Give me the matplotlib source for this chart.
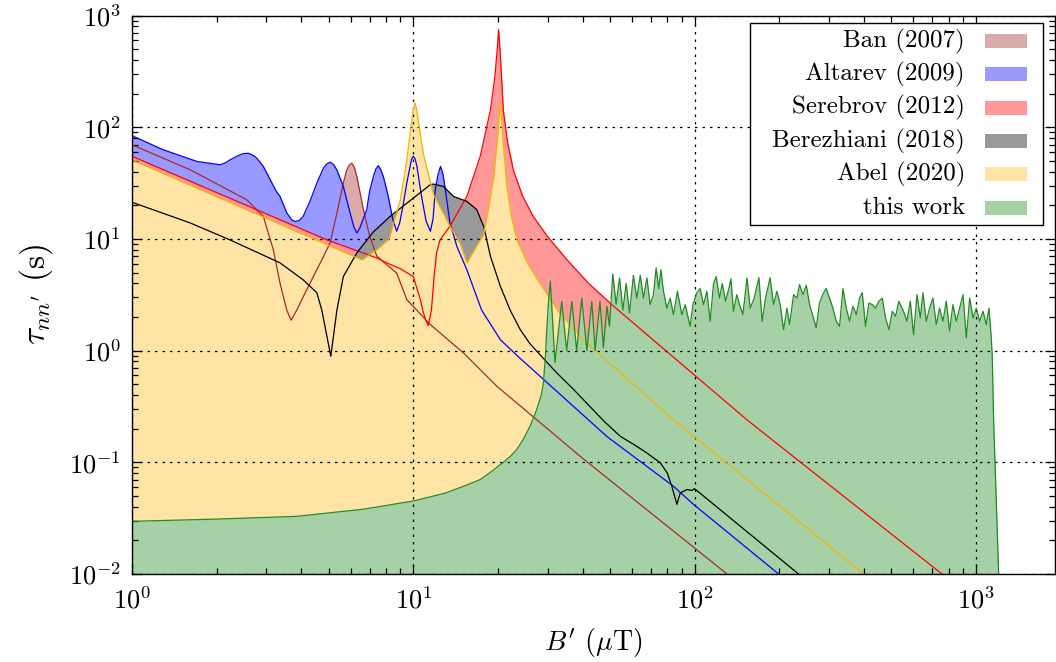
import matplotlib
matplotlib.use('Agg')
import matplotlib.pyplot as plt
from matplotlib.patches import Rectangle
from matplotlib.ticker import LogLocator, NullFormatter

plt.rcParams['font.family'] = ['cmr10', 'DejaVu Serif']
plt.rcParams['mathtext.fontset'] = 'cm'
plt.rcParams['axes.formatter.use_mathtext'] = True
plt.rcParams['axes.unicode_minus'] = False
plt.rcParams['font.size'] = 18

# curves (B' in uT, tau in s)
ban_B = [1, 1.61, 2.56, 2.93, 3.18, 3.36, 3.55, 3.68, 3.85, 4.2, 4.54, 4.8, 5.06, 5.35, 5.64,
         5.80, 5.93, 6.04, 6.17, 6.30, 6.65, 7.0, 7.42, 8.1, 8.73, 9.48, 11.5, 15.1, 19.8,
         30.7, 39.2, 130.3]
ban_tau = [69.6, 41.6, 22.4, 15.9, 8.0, 4.0, 2.3, 1.87, 2.3, 3.6, 5.3, 7.0, 9.2, 17, 31.6,
           41.5, 46, 47.6, 44, 36, 18.3, 10.5, 7.0, 5.8, 4.95, 2.86, 1.71, 0.95, 0.48,
           0.19, 0.113, 0.01]

altarev_B = [1, 1.29, 1.70, 2.06, 2.15, 2.23, 2.36, 2.48, 2.59, 2.70, 2.78, 2.93, 3.1, 3.25,
             3.36, 3.55, 3.7, 3.80, 3.93, 4.06, 4.3, 4.54, 4.79, 4.93, 5.06, 5.2, 5.35, 5.64,
             5.96, 6.15, 6.30, 6.45, 6.83, 7.0, 7.21, 7.35, 7.51, 7.65, 7.83, 8.15, 8.45, 8.73,
             8.95, 9.2, 9.48, 9.74, 9.87, 10.0, 10.15, 10.3, 10.7, 11.1, 11.5, 11.75, 11.97,
             12.25, 12.5, 12.75, 13.0, 13.5, 14.3, 15.5, 17.5, 20.4, 24.0, 28.2, 48.8, 84.1,
             99.1, 198.8]
altarev_tau = [84, 62.9, 49.4, 46.1, 48, 51, 55, 58, 58.5, 56, 52.7, 44.6, 33.9, 27,
               24, 17.1, 14.8, 14.3, 14.6, 15.9, 22, 31.6, 43, 47, 48.6, 46.5, 41.5, 29.5,
               17.1, 12.8, 11.3, 12.5, 18.3, 27, 36, 42, 45.3, 42, 36, 24, 15, 11.7,
               14, 20, 31.6, 44.6, 52, 55, 52, 44.6, 24, 14.5, 11.7, 15, 27.5,
               38, 44.6, 38, 27.5, 13.9, 8.5, 5.3, 2.3, 1.25, 0.85, 0.59, 0.17, 0.061,
               0.042, 0.01]

serebrov_B = [1, 4.93, 7.42, 8.05, 9.0, 10.0, 10.6, 10.8, 11.05, 11.3, 11.6, 11.85, 12.1, 12.45,
              13.5, 15.5, 17.3, 18.8, 19.5, 19.85, 20.1, 20.35, 20.6, 20.9, 21.6, 22.7, 24.5,
              26.7, 30.0, 35.2, 42.0, 51.5, 153.5, 757]
serebrov_tau = [55, 9.8, 6.75, 6.1, 5.4, 4.6, 2.86, 2.3, 1.9, 1.67, 2.3, 4.5, 7.5, 9.8,
                13, 24, 55, 142, 282, 480, 750, 480, 282, 142, 75, 41, 24,
                15.9, 10.5, 6.5, 4.0, 2.5, 0.24, 0.01]

berezhiani_B = [1, 1.61, 2.23, 3.36, 4.06, 4.54, 4.73, 5.09, 5.35, 5.64, 6.30, 7.2, 8.27, 10.0,
                11.5, 11.8, 12.8, 13.9, 15.5, 16.8, 17.8, 18.8, 20.4, 22.1, 24.0, 26.0, 28.2,
                32.0, 37.1, 47.5, 54.4, 62.0, 67.7, 75.5, 80.0, 83, 86.5, 88.9, 93.9, 97.8, 100,
                234]
berezhiani_tau = [21.3, 13.9, 9.8, 6.1, 4.3, 3.3, 2.3, 0.89, 2.3, 4.6, 7.5, 11.5, 15.9, 23.2,
                  30.6, 31, 29.5, 24, 21.7, 18.3, 12.9, 7, 3.76, 2.3, 1.54, 1.15, 0.92,
                  0.65, 0.45, 0.235, 0.171, 0.14, 0.121, 0.099, 0.08, 0.061, 0.042, 0.053,
                  0.057, 0.056, 0.058, 0.01]

abel_B = [1, 6.56, 7.42, 8.2, 8.98, 9.48, 9.8, 10.0, 10.15, 10.3, 10.5, 10.9, 11.8, 13.5, 14.7,
          15.5, 16.5, 17.8, 19.3, 20.0, 20.25, 20.4, 20.6, 20.8, 21.5, 22.3, 23.3, 25.5, 28.2,
          33.0, 40.2, 84.1, 399]
abel_tau = [51, 6.5, 8, 10, 22, 50, 100, 145, 165, 140, 100, 55, 25, 13, 9,
            6.1, 8, 11, 35, 90, 140, 165, 120, 80, 30, 16, 10, 6, 4,
            2.2, 1.25, 0.24, 0.01]

this_B = [1, 2.0, 3.85, 6.65, 10.0, 13.0, 15.1, 17.3, 19.0, 20.9, 22.3, 23.3, 24.6, 26.0, 27.5,
          28.5, 29.0, 29.5, 29.8, 30.2, 30.7, 31.9, 33.7,
          35.1, 36.6, 38.1, 39.7, 41.4, 43.1, 44.3, 46.1, 47.4, 48.8, 49.8, 51.2, 52.6, 54.1,
          55.6, 57.1, 58.7, 60.6, 62.3, 64.1, 65.8, 67.7, 69.5, 71.4, 73.0, 74.6, 75.9, 77.5,
          79.7, 81.9, 84.1, 86.9, 90.1, 92.6, 96.4, 98.6, 101.9, 104.7, 107.6, 110.6, 113.6,
          116.8, 119.4, 122.6, 125.4, 128.8, 132.4, 134.6, 137.5, 141.3, 144.4, 148.5, 153.5,
          157.7, 162.9, 169.3, 173.9, 178.7, 185.6, 190.8, 196.2, 201.5, 207.2, 213, 217.6,
          224.8, 231.1, 236.1, 242.7, 249.5, 256.3, 263.6, 270.5, 278, 285.8, 293.7, 301.7,
          310.3, 318.9, 327.6, 336.8, 346, 355.6, 365.6, 375.7, 385.8, 394.5, 405.2, 416.5,
          428.1, 439.7, 452, 464.6, 477.3, 490.7, 504.3, 518, 532.6, 553.1, 568.6, 584.5,
          600.4, 617.5, 634.5, 648.4, 666.2, 684.5, 703.6, 723, 742.9, 763.6, 784.7, 806.1,
          828.8, 851.7, 875.2, 900, 924.7, 950.2, 976.7, 1003, 1031, 1060, 1089, 1113, 1132,
          1143, 1156, 1205]
this_tau = [0.0296, 0.031, 0.0328, 0.038, 0.045, 0.053, 0.061, 0.07, 0.083, 0.1, 0.115, 0.13,
            0.16, 0.21, 0.30, 0.40, 0.51, 0.9, 1.5, 2.6, 4.2, 0.78, 2.76,
            1.0, 2.76, 1.0, 2.95, 1.0, 2.76, 1.0, 2.76, 1.06, 2.5, 1.65, 4.85, 2.6, 4.47,
            2.3, 4.0, 2.17, 4.72, 2.95, 4.72, 2.95, 4.47, 2.58, 3.17, 5.5, 3.6, 5.3, 3.4,
            2.4, 2.95, 2.1, 3.4, 2.1, 2.58, 1.65, 2.58, 3.3, 3.6, 2.58, 3.4, 1.83,
            4.0, 4.6, 2.95, 4.0, 2.77, 3.6, 4.4, 2.25, 3.17, 2.58, 2.1, 4.47,
            2.4, 2.95, 4.5, 1.83, 2.95, 4.5, 2.58, 3.4, 2.58, 1.54, 2.4, 1.71,
            3.17, 2.95, 3.9, 3.17, 3.85, 2.58, 2.03, 1.6, 2.67, 3.2, 3.6, 2.95,
            2.4, 1.83, 1.65, 3.6, 2.4, 1.83, 2.5, 2.1, 2.95, 3.3, 1.65, 2.67,
            2.58, 2.4, 2.77, 2.95, 1.96, 1.54, 2.25, 2.03, 2.77, 2.25, 1.83, 2.77,
            1.39, 3.17, 1.96, 3.3, 1.83, 2.4, 2.95, 1.71, 2.4, 1.83, 2.77, 1.5,
            2.58, 1.83, 2.4, 3.17, 1.3, 2.95, 1.96, 2.4, 1.83, 2.25, 1.71, 2.4, 1.39,
            0.92, 0.24, 0.01]

labels = ['Ban (2007)', 'Altarev (2009)', 'Serebrov (2012)', 'Berezhiani (2018)',
          'Abel (2020)', 'this work']
line_colors = ['#a52a2a', '#0000ff', '#ff0000', '#000000', '#f2b400', '#228b22']
fill_colors = ['#dbaaaa', '#9999ff', '#ff9999', '#999999', '#ffe4a6', '#a6d1a6']
data = [(ban_B, ban_tau), (altarev_B, altarev_tau), (serebrov_B, serebrov_tau),
        (berezhiani_B, berezhiani_tau), (abel_B, abel_tau), (this_B, this_tau)]

fig = plt.figure(figsize=(10.56, 6.62), dpi=100)
ax = fig.add_axes([0.125, 0.133, 0.874, 0.8435])

for (B, tau), fc in zip(data, fill_colors):
    ax.fill_between(B, 1e-3, tau, color=fc, lw=0, zorder=1)
for (B, tau), lc in zip(data, line_colors):
    ax.plot(B, tau, color=lc, lw=0.9, zorder=3)

ax.set_xscale('log')
ax.set_yscale('log')
ax.set_xlim(1, 1910)
ax.set_ylim(1e-2, 1e3)
ax.xaxis.set_minor_locator(LogLocator(subs=range(2, 10)))
ax.yaxis.set_minor_locator(LogLocator(subs=range(2, 10)))
ax.xaxis.set_minor_formatter(NullFormatter())
ax.yaxis.set_minor_formatter(NullFormatter())
ax.tick_params(which='both', direction='in', top=True, right=True, width=0.9, labelsize=19)
ax.tick_params(which='major', length=7)
ax.tick_params(which='minor', length=4)
ax.tick_params(axis='x', pad=9)
ax.tick_params(axis='y', pad=8)
ax.grid(True, which='major', color='black', ls=(0, (2, 4)), lw=0.9)
for s in ax.spines.values():
    s.set_linewidth(1.0)
    s.set_zorder(6)

ax.set_xlabel(r"$B'$ ($\mu$T)", fontsize=20, labelpad=9)
ax.set_ylabel(r"$\tau_{nn'}$ (s)", fontsize=24, labelpad=10)

# legend box, drawn by hand to get right-aligned entries
ax.add_patch(Rectangle((0.670, 0.625), 0.317, 0.361, transform=ax.transAxes,
                       facecolor='white', edgecolor='black', lw=1.0, zorder=7))
rows = [0.954, 0.895, 0.835, 0.775, 0.716, 0.656]
for lab, fc, yy in zip(labels, fill_colors, rows):
    ax.text(0.9025, yy, lab, transform=ax.transAxes, ha='right', va='center', zorder=8)
    ax.add_patch(Rectangle((0.924, yy - 0.0125), 0.046, 0.025, transform=ax.transAxes,
                           facecolor=fc, edgecolor='none', zorder=8))

fig.savefig('out.png', dpi=100)
